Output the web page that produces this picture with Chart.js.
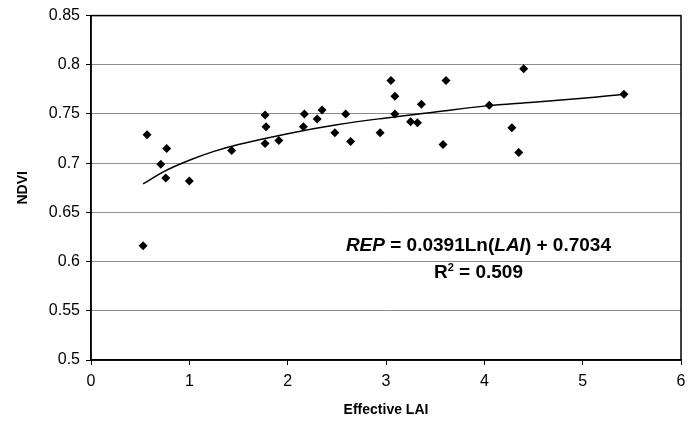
<!DOCTYPE html>
<html>
<head>
<meta charset="utf-8">
<script src="https://cdn.jsdelivr.net/npm/chart.js"></script>
<style>
body{margin:0;background:#fff;}
#wrap{width:696px;height:424px;}
</style>
</head>
<body>
<div id="wrap"><canvas id="ndvichart" width="696" height="424"></canvas></div>
<script>
// measured points: effective LAI vs NDVI
var laiValues = [0.53, 0.57, 0.71, 0.77, 0.76, 1.0, 1.43, 1.77, 1.78, 1.77, 1.91, 2.17, 2.16, 2.30, 2.35, 2.48, 2.59, 2.64, 2.94, 3.05, 3.09, 3.09, 3.25, 3.32, 3.36, 3.58, 3.61, 4.05, 4.28, 4.35, 4.40, 5.42];
var ndviValues = [0.616, 0.729, 0.699, 0.715, 0.685, 0.682, 0.713, 0.749, 0.737, 0.720, 0.723, 0.750, 0.737, 0.745, 0.754, 0.731, 0.750, 0.722, 0.731, 0.784, 0.768, 0.750, 0.742, 0.741, 0.760, 0.719, 0.784, 0.759, 0.736, 0.711, 0.796, 0.770];

// log trendline
var trendLai = [0.53, 0.75, 1.0, 1.25, 1.5, 2.0, 2.5, 3.0, 3.5, 4.0, 4.5, 5.0, 5.42];
var trendNdvi = [0.679, 0.692, 0.703, 0.712, 0.719, 0.730, 0.739, 0.746, 0.752, 0.758, 0.762, 0.766, 0.770];

var xTickValues = [0, 1, 2, 3, 4, 5, 6];
var yTickValues = [0.5, 0.55, 0.6, 0.65, 0.7, 0.75, 0.8, 0.85];

var eqnText = ["REP", " = 0.0391Ln(", "LAI", ") + 0.7034"];
var eqnItalic = [true, false, true, false];
var r2Text = "0.509";

function toPoints(xs, ys){
    var pts = [];
    for(var i = 0; i < xs.length; i++){
        pts.push({x: xs[i], y: ys[i]});
    }
    return pts;
}

// box round the plot area
var frameplugin = {
    id: "frame",
    afterDatasetsDraw: function(chart){
        var a = chart.chartArea;
        var ctx = chart.ctx;
        ctx.save();
        ctx.strokeStyle = "#000";
        ctx.lineWidth = 1.5;
        ctx.strokeRect(a.left, a.top, a.right - a.left, a.bottom - a.top);
        ctx.restore();
    }
};

// regression equation text
var eqnplugin = {
    id: "eqn",
    afterDatasetsDraw: function(chart){
        var ctx = chart.ctx;
        var xs = chart.scales.x, ys = chart.scales.y;
        var cx = xs.getPixelForValue(3.94);
        var y1 = ys.getPixelForValue(0.6105);
        var y2 = ys.getPixelForValue(0.5835);
        var size = 19;
        ctx.save();
        ctx.fillStyle = "#000";
        ctx.textBaseline = "alphabetic";
        ctx.textAlign = "left";
        var total = 0, i;
        for(i = 0; i < eqnText.length; i++){
            ctx.font = (eqnItalic[i] ? "italic " : "") + "bold " + size + "px 'Liberation Sans', Arial";
            total += ctx.measureText(eqnText[i]).width;
        }
        var x = cx - total / 2;
        for(i = 0; i < eqnText.length; i++){
            ctx.font = (eqnItalic[i] ? "italic " : "") + "bold " + size + "px 'Liberation Sans', Arial";
            ctx.fillText(eqnText[i], x, y1);
            x += ctx.measureText(eqnText[i]).width;
        }
        // R squared line
        var big = "bold " + size + "px 'Liberation Sans', Arial";
        var small = "bold 11px 'Liberation Sans', Arial";
        ctx.font = big;
        var wR = ctx.measureText("R").width;
        var wRest = ctx.measureText(" = " + r2Text).width;
        ctx.font = small;
        var w2 = ctx.measureText("2").width;
        x = cx - (wR + w2 + wRest) / 2;
        ctx.font = big;
        ctx.fillText("R", x, y2);
        ctx.font = small;
        ctx.fillText("2", x + wR, y2 - 7);
        ctx.font = big;
        ctx.fillText(" = " + r2Text, x + wR + w2, y2);
        ctx.restore();
    }
};

function drawchart(){
    var ctx = document.getElementById("ndvichart").getContext("2d");
    var myChart = new Chart(ctx, {
        type: "scatter",
        data: {
            datasets: [
                {
                    label: "Trend",
                    data: toPoints(trendLai, trendNdvi),
                    showLine: true,
                    borderColor: "#000",
                    borderWidth: 1.5,
                    pointRadius: 0,
                    tension: 0.4,
                    fill: false
                },
                {
                    label: "NDVI",
                    data: toPoints(laiValues, ndviValues),
                    pointStyle: "rectRot",
                    pointRadius: 4.5,
                    backgroundColor: "#000",
                    borderColor: "#000",
                    borderWidth: 0
                }
            ]
        },
        options: {
            responsive: false,
            animation: false,
            layout: {padding: {top: 15, right: 15, left: 0, bottom: 0}},
            plugins: {
                legend: {display: false},
                tooltip: {enabled: false}
            },
            scales: {
                x: {
                    type: "linear",
                    min: 0,
                    max: 6,
                    afterBuildTicks: function(scale){
                        scale.ticks = xTickValues.map(function(v){ return {value: v}; });
                    },
                    afterFit: function(scale){ scale.height = 64; },
                    grid: {drawOnChartArea: false, tickLength: 5, tickColor: "#000"},
                    border: {color: "#000", width: 1.5},
                    ticks: {
                        color: "#000",
                        padding: 7,
                        font: {family: "'Liberation Sans', Arial", size: 16},
                        callback: function(v){ return String(v); }
                    },
                    title: {
                        display: true,
                        text: "Effective LAI",
                        color: "#000",
                        padding: {top: 0, bottom: 5},
                        font: {family: "'Liberation Sans', Arial", size: 14, weight: "bold"}
                    }
                },
                y: {
                    type: "linear",
                    min: 0.5,
                    max: 0.85,
                    afterBuildTicks: function(scale){
                        scale.ticks = yTickValues.map(function(v){ return {value: v}; });
                    },
                    afterFit: function(scale){ scale.width = 91; },
                    grid: {color: "#8c8c8c", lineWidth: 1, tickLength: 5, tickColor: "#000"},
                    border: {color: "#000", width: 1.5},
                    ticks: {
                        color: "#000",
                        padding: 6,
                        font: {family: "'Liberation Sans', Arial", size: 16},
                        callback: function(v){ return String(parseFloat(v.toFixed(2))); }
                    },
                    title: {
                        display: true,
                        text: "NDVI",
                        color: "#000",
                        padding: {top: 15, bottom: 0},
                        font: {family: "'Liberation Sans', Arial", size: 14, weight: "bold"}
                    }
                }
            }
        },
        plugins: [frameplugin, eqnplugin]
    });
}
drawchart();
</script>
</body>
</html>
